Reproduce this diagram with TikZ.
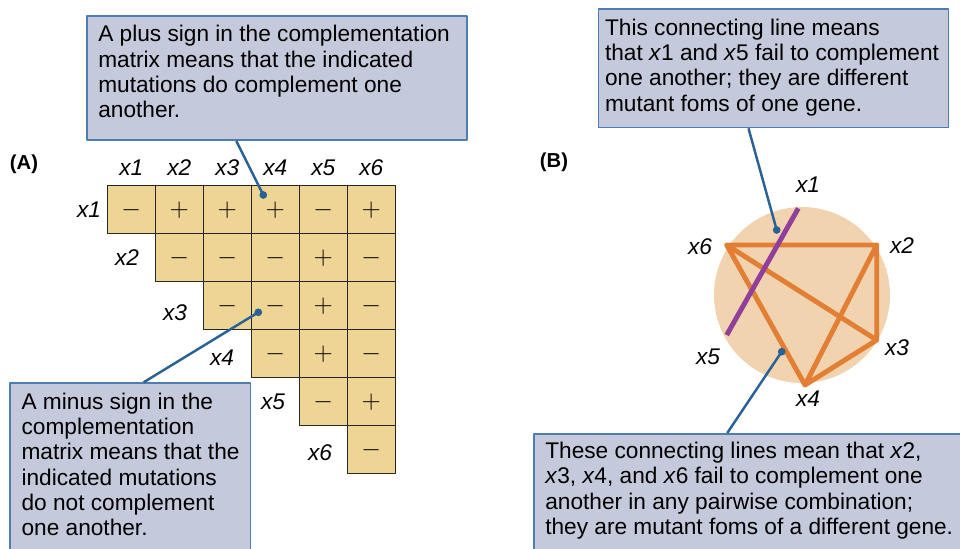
\documentclass[tikz,border=0pt]{standalone}
\usepackage{fontspec}
\setmainfont{Liberation Sans}
\usetikzlibrary{calc}

\definecolor{cellfill}{HTML}{EFD595}
\definecolor{ringfill}{HTML}{F1D4AF}
\definecolor{notefill}{HTML}{C4C9DC}
\definecolor{noteedge}{HTML}{4E7DB3}
\definecolor{pointblue}{HTML}{2A6297}
\definecolor{geneorange}{HTML}{E27F35}
\definecolor{genepurple}{HTML}{923F99}

\begin{document}
\begin{tikzpicture}[x=.02cm,y=-.02cm,line cap=round,line join=round,
    font=\fontsize{12.9}{14.4}\selectfont,
    cell/.style={draw=black!85,line width=.7pt,fill=cellfill,minimum size=.96cm,inner sep=0pt,
      font=\fontsize{15}{18}\selectfont},
    note/.style={draw=noteedge,line width=.9pt,fill=notefill,anchor=north west,inner sep=0pt},
    notetext/.style={anchor=north west,align=left,inner xsep=6.8pt,inner ysep=5.8pt},
    link/.style={draw=pointblue,line width=1.4pt,line cap=butt},
    pair/.style={line width=2.8pt}]
    \useasboundingbox (0,0) rectangle (960,548);
    \clip (0,0) rectangle (960,548);

    % (A) the complementation matrix.
    \node[font=\fontsize{11.5}{13}\selectfont\bfseries] (tagA) at (24,164) {(A)};
    \foreach \c in {1,...,6}
      \node (col\c) at ({131.3+48*(\c-1)},168) {\textit{x\c}};
    \foreach \r/\px/\py in {1/89/210,2/127/258,3/175/313,4/222/358,5/273/402,6/320/453}
      \node (row\r) at (\px,\py) {\textit{x\r}};
    \foreach \signs [count=\r] in {{-,+,+,+,-,+},{-,-,-,+,-},{-,-,+,-},{-,+,-},{-,+},{-}}
      \foreach \s [count=\k] in \signs {
        \pgfmathtruncatemacro{\c}{\r+\k-1}
        \node[cell] (c\r\c) at ({131.3+48*(\c-1)},{209.7+48*(\r-1)}) {$\s$};
      }

    % (B) the same results as groups of mutants.
    \node[font=\fontsize{11.5}{13}\selectfont\bfseries] (tagB) at (554,162) {(B)};
    \fill[ringfill] (802,295) circle (1.76cm);
    \coordinate (v6) at (726.7,245);
    \coordinate (v2) at (876.7,245);
    \coordinate (v3) at (876.7,340);
    \coordinate (v4) at (805,385);
    \coordinate (p1) at (798.3,208.3);
    \coordinate (p5) at (726.7,335);
    \draw[pair,geneorange] (v6) -- (v2) -- (v3) -- (v4) -- cycle (v6) -- (v3) (v2) -- (v4);
    \draw[pair,genepurple,line cap=butt] (p1) -- (p5);
    \node (l1) at (808,185) {\textit{x1}};
    \node (l2) at (902,246) {\textit{x2}};
    \node (l3) at (897,348) {\textit{x3}};
    \node (l4) at (808,399) {\textit{x4}};
    \node (l5) at (708,357) {\textit{x5}};
    \node (l6) at (700,247) {\textit{x6}};

    % The notes and their pointers.
    \node[note,minimum width=7.6cm,minimum height=2.49cm] (plusbox) at (86,15) {};
    \node[note,minimum width=7cm,minimum height=2.37cm] (onebox) at (597.7,8.3) {};
    \node[note,minimum width=4.81cm,minimum height=4cm] (minusbox) at (9.3,382.3) {};
    \node[note,minimum width=8.8cm,minimum height=3cm] (twobox) at (533,433) {};
    \node[notetext] (plustext) at (plusbox.north west)
      {A plus sign in the complementation\\matrix means that the indicated\\mutations do complement one\\another.};
    \node[notetext,inner xsep=4pt] (onetext) at (onebox.north west)
      {This connecting line means\\that \textit{x}1 and \textit{x}5 fail to complement\\one another; they are different\\mutant foms of one gene.};
    \node[notetext] (minustext) at (minusbox.north west)
      {A minus sign in the\\complementation\\matrix means that the\\indicated mutations\\do not complement\\one another.};
    \node[notetext,inner ysep=5pt] (twotext) at (twobox.north west)
      {These connecting lines mean that \textit{x}2,\\\textit{x}3, \textit{x}4, and \textit{x}6 fail to complement one\\another in any pairwise combination;\\they are mutant foms of a different gene.};

    \coordinate (plusdot) at (263.3,195);
    \coordinate (minusdot) at (258.3,312.3);
    \coordinate (onedot) at (776.7,230);
    \coordinate (twodot) at (781.7,351.7);
    \draw[link] (plusdot) -- ($(plusbox.south west)!.394!(plusbox.south east)$);
    \draw[link] (minusdot) -- ($(minusbox.north west)!.555!(minusbox.north east)$);
    \draw[link] (onedot) -- ($(onebox.south west)!.429!(onebox.south east)$);
    \draw[link] (twodot) -- ($(twobox.north west)!.44!(twobox.north east)$);
    \foreach \d in {plusdot,minusdot,onedot,twodot}
      \fill[pointblue] (\d) circle (2.2pt);
  \end{tikzpicture}
\end{document}
